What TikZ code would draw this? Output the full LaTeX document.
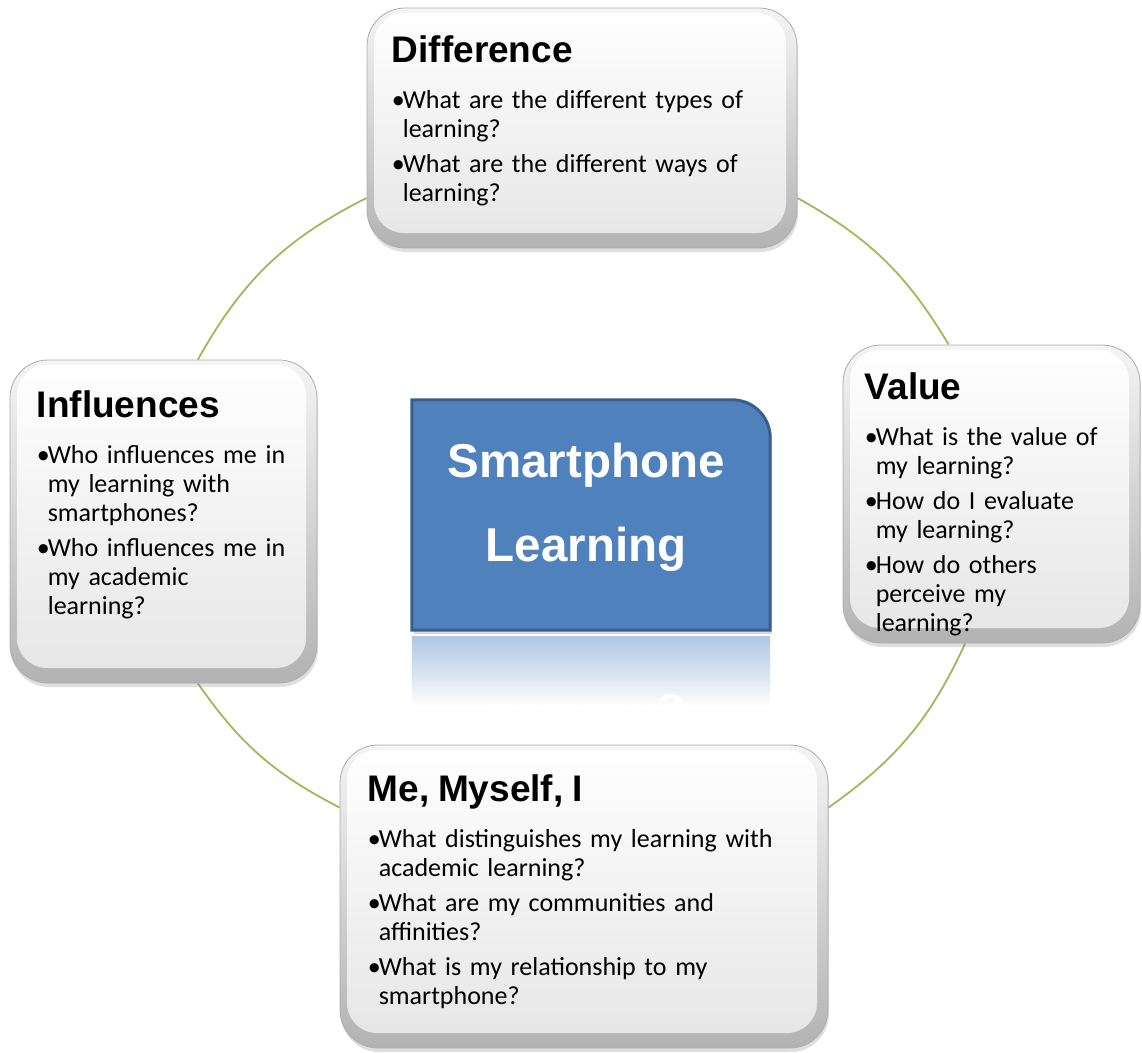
\documentclass[tikz,border=0pt]{standalone}
\usepackage{fontspec}
\usepackage{graphicx}
\setmainfont{Carlito}
\newfontfamily\headfont{Liberation Sans}
\usepackage{tikz}
\usetikzlibrary{positioning,shadows}
\pgfdeclarelayer{background}
\pgfsetlayers{background,main}
\definecolor{hubblue}{HTML}{4F81BD}
\definecolor{hubedge}{HTML}{3A5F8B}
\definecolor{ringgreen}{HTML}{9BBB59}
\newcommand{\titlefont}{\headfont\bfseries\fontsize{37}{44}\selectfont}
\newcommand{\bodyfont}{\fontsize{26}{29}\selectfont}
\newcommand{\bul}{\makebox[11pt][l]{\textbullet}}
\newcommand{\ind}{\hspace*{11pt}}
\newcommand{\heading}[1]{{\titlefont #1\par}\vspace{17pt}}
\newcommand{\gap}{\par\vspace{6pt}}
\tikzstyle{topic box}=[rectangle, rounded corners=38pt
,draw=gray!65, line width=0.8pt
,top color=gray!8, bottom color=gray!60
,drop shadow={opacity=0.25, shadow xshift=1pt, shadow yshift=-4pt}
,path picture={\shade[top color=white, bottom color=gray!20, rounded corners=30pt]
  ([xshift=7pt,yshift=-5pt]path picture bounding box.north west) rectangle
  ([xshift=-11pt,yshift=15pt]path picture bounding box.south east);}
]
\tikzstyle{topic text}=[anchor=north west, inner sep=0pt, align=left, font=\bodyfont]
\tikzstyle{hub box}=[rectangle, minimum width=358pt, minimum height=230pt, inner sep=0pt]
\tikzstyle{hub shape}=[fill=hubblue, draw=hubedge, line width=3pt
,drop shadow={opacity=0.3, shadow xshift=2pt, shadow yshift=-4pt}]
\tikzstyle{hub text}=[font=\headfont\bfseries\fontsize{47.5}{84}\selectfont, text=white, align=center, inner sep=0pt]
\tikzstyle{ring}=[draw=ringgreen, line width=1.8pt]

\begin{document}
\begin{tikzpicture}[x=1pt,y=-1pt]
    \useasboundingbox (0,0) rectangle (1142,1052);

    % First we draw the four topic boxes
    \foreach \pos/\w/\h/\name in {{(582,128)/430pt/240pt/diff}, {(991.5,494)/297pt/298pt/value},
        {(163.5,521.5)/307pt/323pt/infl}, {(584,896.5)/488pt/303pt/me}}
        \node[topic box, minimum width=\w, minimum height=\h] (\name) at \pos {};

    % Then the questions inside them
    \node[topic text, text width=400pt, below right=28pt and 25pt of diff.north west] (diff-t) {\heading{Difference}
        \bul What are the different types of\\\ind learning?\gap
        \bul What are the different ways of\\\ind learning?};
    \node[topic text, text width=270pt, below right=28pt and 22pt of value.north west] (value-t) {\heading{Value}
        \bul What is the value of\\\ind my learning?\gap
        \bul How do I evaluate\\\ind my learning?\gap
        \bul How do others\\\ind perceive my\\\ind learning?};
    \node[topic text, text width=280pt, below right=31pt and 27pt of infl.north west] (infl-t) {\heading{Influences}
        \bul Who influences me in\\\ind my learning with\\\ind smartphones?\gap
        \bul Who influences me in\\\ind my academic\\\ind learning?};
    \node[topic text, text width=455pt, below right=30pt and 28pt of me.north west] (me-t) {\heading{Me, Myself, I}
        \bul What distinguishes my learning with\\\ind academic learning?\gap
        \bul What are my communities and\\\ind affinities?\gap
        \bul What is my relationship to my\\\ind smartphone?};

    % Connect the boxes round the cycle, behind them
    \begin{pgfonlayer}{background}
        \foreach \source/\dest/\bend in {infl.78/diff.198.5/17, diff.342/value.106.3/15,
            value.260.7/me.20.6/15, me.160.1/infl.282.1/14}
            \draw[ring] (\source) to[bend left=\bend] (\dest);
    \end{pgfonlayer}

    % The hub in the middle, with its reflection
    \node[hub box] (hub) at (591,515) {};
    \shade[top color=hubblue!45, bottom color=white] ([yshift=-6pt]hub.south west) rectangle ([yshift=-77pt]hub.south east);
    \begin{scope}
        \clip ([yshift=-6pt]hub.south west) rectangle ([yshift=-82pt]hub.south east);
        \node[hub text, anchor=base] (hub-r) at (586,704) {\scalebox{1}[-1]{Learning}};
    \end{scope}
    \path[hub shape] (hub.south west) -- (hub.north west) -- ([xshift=-38pt]hub.north east)
        arc[start angle=90, end angle=0, radius=38pt] -- (hub.south east) -- cycle;
    \node[hub text] (hub-t) at (586,507) {Smartphone\\Learning};
\end{tikzpicture}
\end{document}
